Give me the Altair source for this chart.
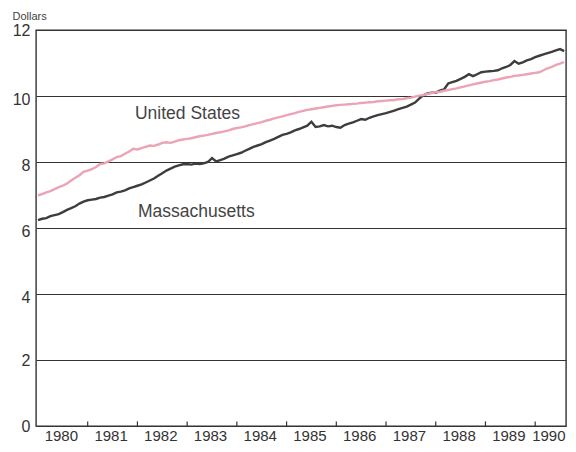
import altair as alt
import pandas as pd

# Monthly values, Jan 1980 .. Aug 1990
us_values = [
    6.99, 7.03, 7.08, 7.12, 7.18, 7.24, 7.28, 7.35, 7.44, 7.52, 7.60, 7.70,
    7.74, 7.78, 7.85, 7.94, 7.96, 8.02, 8.08, 8.15, 8.18, 8.25, 8.32, 8.40,
    8.38, 8.42, 8.46, 8.50, 8.49, 8.53, 8.58, 8.60, 8.58, 8.62, 8.66, 8.68,
    8.70, 8.72, 8.75, 8.78, 8.80, 8.82, 8.85, 8.88, 8.90, 8.93, 8.96, 9.00,
    9.03, 9.05, 9.08, 9.12, 9.15, 9.18, 9.21, 9.25, 9.28, 9.32, 9.35, 9.38,
    9.42, 9.45, 9.48, 9.52, 9.55, 9.58, 9.60, 9.62, 9.64, 9.66, 9.68, 9.70,
    9.72, 9.73, 9.74, 9.75, 9.76, 9.77, 9.79, 9.80, 9.81, 9.82, 9.84, 9.85,
    9.86, 9.87, 9.88, 9.90, 9.91, 9.93, 9.95, 9.98, 10.01, 10.03, 10.06, 10.09,
    10.11, 10.13, 10.16, 10.18, 10.21, 10.23, 10.26, 10.29, 10.32, 10.35, 10.38, 10.41,
    10.43, 10.45, 10.48, 10.50, 10.53, 10.56, 10.58, 10.61, 10.62, 10.64, 10.66, 10.68,
    10.70, 10.72, 10.78, 10.84, 10.88, 10.94, 10.98, 11.03,
]
ma_values = [
    6.24, 6.28, 6.30, 6.36, 6.39, 6.42, 6.48, 6.55, 6.60, 6.66, 6.74, 6.80,
    6.84, 6.86, 6.88, 6.92, 6.94, 6.98, 7.02, 7.08, 7.10, 7.14, 7.20, 7.24,
    7.28, 7.32, 7.38, 7.44, 7.50, 7.58, 7.66, 7.74, 7.80, 7.86, 7.90, 7.93,
    7.94, 7.92, 7.95, 7.94, 7.96, 8.00, 8.12, 8.02, 8.06, 8.10, 8.16, 8.20,
    8.24, 8.28, 8.34, 8.40, 8.46, 8.50, 8.54, 8.60, 8.65, 8.70, 8.76, 8.82,
    8.85, 8.90, 8.96, 9.00, 9.05, 9.10, 9.22, 9.06, 9.08, 9.12, 9.08, 9.10,
    9.06, 9.04, 9.12, 9.16, 9.20, 9.25, 9.30, 9.28, 9.34, 9.38, 9.42, 9.45,
    9.48, 9.52, 9.56, 9.60, 9.64, 9.68, 9.74, 9.80, 9.92, 10.02, 10.08, 10.10,
    10.10, 10.16, 10.20, 10.38, 10.42, 10.46, 10.52, 10.58, 10.66, 10.60, 10.66, 10.72,
    10.74, 10.75, 10.76, 10.78, 10.84, 10.88, 10.94, 11.06, 10.98, 11.02, 11.08, 11.12,
    11.18, 11.22, 11.26, 11.30, 11.34, 11.38, 11.42, 11.36,
]
series_names = ["Massachusetts", "United States"]
year_labels = list(range(1980, 1991))
tick_years = list(range(1981, 1991))
y_ticks = [0, 2, 4, 6, 8, 10, 12]
label_texts = ["United States", "Massachusetts"]
label_t = [1981.95, 1982.01]
label_v = [9.45, 6.5]

rows = []
for name, vals in zip(series_names, [ma_values, us_values]):
    for i, v in enumerate(vals):
        rows.append({"t": 1980 + i / 12.0, "v": v, "series": name})
df = pd.DataFrame(rows)

ticks_df = pd.DataFrame({"t": tick_years, "y0": [0] * len(tick_years), "y1": [0.14] * len(tick_years)})
labels_df = pd.DataFrame({"text": label_texts, "t": label_t, "v": label_v})

font = "Liberation Sans"
x_scale = alt.Scale(domain=[1979.96, 1990.62], nice=False, zero=False)
y_scale = alt.Scale(domain=[0, 12], nice=False)

x_label_pos = [y + 0.46 for y in year_labels[:-1]] + [1990.6]

lines = alt.Chart(df).mark_line(strokeWidth=2.4).encode(
    x=alt.X("t:Q", scale=x_scale,
            axis=alt.Axis(values=x_label_pos,
                          labelExpr="'' + floor(datum.value)",
                          labelFlush=6,
                          grid=False, ticks=False, domain=False,
                          labelFontSize=15, labelColor="#333333", labelFont=font,
                          labelPadding=2, title=None)),
    y=alt.Y("v:Q", scale=y_scale,
            axis=alt.Axis(values=y_ticks, grid=True, gridColor="#333333", gridWidth=1.2,
                          gridOpacity=1, ticks=False, domain=False,
                          labelFontSize=16, labelColor="#333333", labelFont=font,
                          labelPadding=6,
                          labelOffset={"condition": {"test": "datum.value >= 4 && datum.value <= 10",
                                                     "value": 3},
                                       "value": 0},
                          title="Dollars", titleAngle=0, titleAlign="left",
                          titleBaseline="alphabetic", titleX=-24, titleY=-10.5,
                          titleFontSize=11, titleFontWeight="normal",
                          titleColor="#444444", titleFont=font)),
    color=alt.Color("series:N", scale=alt.Scale(domain=series_names,
                                               range=["#3d3d3d", "#eba3b5"]),
                    legend=None),
    order=alt.Order("series:N", sort="ascending"),
)

tick_marks = alt.Chart(ticks_df).mark_rule(color="#333333", strokeWidth=1.2).encode(
    x=alt.X("t:Q", scale=x_scale),
    y=alt.Y("y0:Q", scale=y_scale),
    y2="y1:Q",
)

texts = alt.Chart(labels_df).mark_text(
    align="left", baseline="middle", fontSize=17.5, font=font, color="#444444"
).encode(
    x=alt.X("t:Q", scale=x_scale),
    y=alt.Y("v:Q", scale=y_scale),
    text="text:N",
)

chart = alt.layer(lines, tick_marks, texts).properties(
    width=530, height=396,
    autosize=alt.AutoSizeParams(type="none"),
    padding={"left": 28, "top": 22, "right": 2, "bottom": 18},
).configure_view(stroke="#333333", strokeWidth=1.4)

chart.save("out.html", embed_options={"renderer": "svg", "actions": False})
